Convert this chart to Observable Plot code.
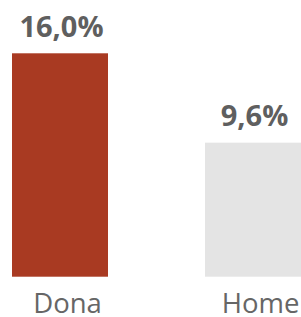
<!DOCTYPE html>
<html><head><meta charset="utf-8">
<script src="https://cdn.jsdelivr.net/npm/d3@7"></script>
<script src="https://cdn.jsdelivr.net/npm/@observablehq/plot@0.6"></script>
<style>body{margin:0;background:#fff}</style>
</head><body><div id="chart"></div>
<script>
const categories = ["Dona", "Home"];
const values = [16.0, 9.6];
const labels = ["16,0%", "9,6%"];
const colors = ["#A93A22", "#E4E4E4"];
const data = categories.map((c, i) => ({cat: c, v: values[i], label: labels[i], color: colors[i]}));
const chart = Plot.plot({
  width: 301, height: 317,
  marginTop: 0, marginBottom: 0, marginLeft: 0, marginRight: 0,
  style: {fontFamily: "'Open Sans', sans-serif", background: "#fff"},
  x: {domain: categories, range: [12, 301], paddingInner: 0.503, paddingOuter: 0, axis: null},
  y: {domain: [0, 16], range: [276.7, 53.3], axis: null},
  marks: [
    Plot.barY(data, {x: "cat", y: "v", fill: "color"}),
    Plot.text(data, {x: "cat", y: "v", text: "label", fontSize: 29, fontWeight: "bold", fill: "#5f5f5f", lineAnchor: "bottom", dy: -17, dx: 1, style: "letter-spacing:-1px"}),
    Plot.text(data, {x: "cat", y: 0, text: "cat", fontSize: 27.5, fill: "#666", lineAnchor: "bottom", dy: 36, dx: 7})
  ]
});
document.getElementById("chart").appendChild(chart);
</script></body></html>
